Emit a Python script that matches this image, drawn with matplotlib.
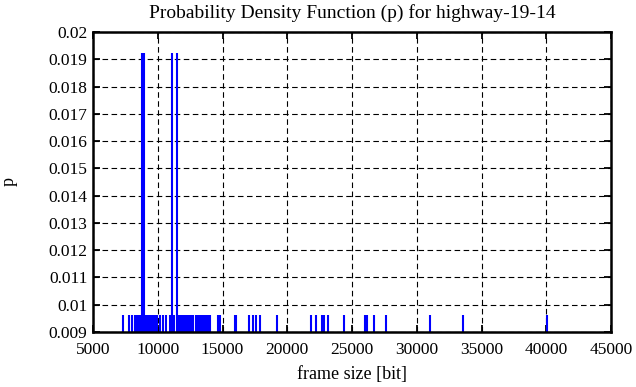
import matplotlib
matplotlib.use("Agg")
import matplotlib.pyplot as plt
from matplotlib.ticker import FuncFormatter

# frame sizes [bit] with their probability
frame_sizes = [7317, 7780, 7973, 8220, 8398, 8552, 8668, 8784, 8900, 9015, 9131, 9247,
               9363, 9479, 9595, 9710, 9826, 9942, 10174, 10405, 10637, 10946, 11100,
               11255, 11486, 11602, 11718, 11834, 11950, 12066, 12181, 12297, 12413,
               12529, 12722, 12954, 13108, 13263, 13417, 13571, 13726, 13842, 13958,
               14073, 14652, 14807, 15965, 16081, 17046, 17355, 17587, 17896, 19208,
               21833, 22258, 22721, 22876, 23185, 24382, 26003, 26158, 26698, 27625,
               31023, 33571, 40058]
tall_sizes = [8784, 8900, 11100, 11486]
p_single = 1 / 104
p_double = 2 / 104
probabilities = [p_double if s in tall_sizes else p_single for s in frame_sizes]

x_ticks = [5000, 10000, 15000, 20000, 25000, 30000, 35000, 40000, 45000]
y_ticks = [0.009, 0.01, 0.011, 0.012, 0.013, 0.014, 0.015, 0.016, 0.017, 0.018, 0.019, 0.02]

plt.rcParams['font.family'] = ['Liberation Serif', 'DejaVu Serif']
plt.rcParams['lines.scale_dashes'] = False

fig = plt.figure(figsize=(6.36, 3.87), dpi=100)
ax = fig.add_axes([93 / 636, 1 - 332 / 387, (611 - 93) / 636, 300 / 387])

ax.vlines(frame_sizes, 0, probabilities, colors='#0000ff', linewidth=1.5, zorder=3)

ax.set_xlim(5000, 45000)
ax.set_ylim(0.009, 0.02)
ax.set_xticks(x_ticks)
ax.set_yticks(y_ticks)
ax.yaxis.set_major_formatter(FuncFormatter(lambda v, pos: '%g' % round(v, 4)))
ax.xaxis.set_major_formatter(FuncFormatter(lambda v, pos: '%d' % v))

ax.grid(True, color='black', linewidth=0.8, linestyle=(0, (4, 2.5)), zorder=1)
ax.set_axisbelow(True)

for sp in ax.spines.values():
    sp.set_linewidth(1.8)
    sp.set_zorder(4)
ax.tick_params(direction='in', length=5, width=1.3, top=True, right=True,
               labelsize=12.5)
ax.tick_params(axis='x', pad=7)
ax.tick_params(axis='y', pad=4)

ax.set_title('Probability Density Function (p) for highway-19-14', fontsize=14, pad=10)
ax.set_xlabel('frame size [bit]', fontsize=13, labelpad=6)
ax.set_ylabel('p', fontsize=13, labelpad=22)

fig.savefig('out.png', dpi=100)
